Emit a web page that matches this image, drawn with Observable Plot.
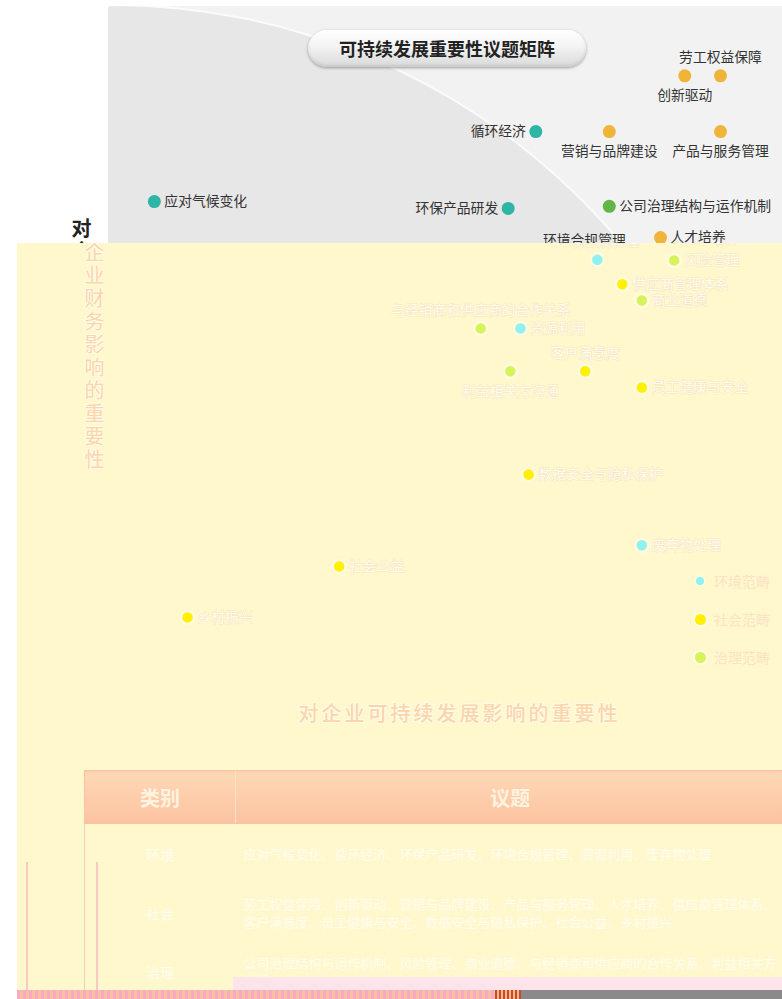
<!DOCTYPE html>
<html><head><meta charset="utf-8">
<script src="https://cdn.jsdelivr.net/npm/d3@7"></script>
<script src="https://cdn.jsdelivr.net/npm/@observablehq/plot@0.6"></script>
<style>
body{margin:0;background:#fff;font-family:"Noto Sans CJK SC","Noto Sans",sans-serif;}
#page{position:relative;width:782px;height:999px;overflow:hidden;background:#fff;}
.layer{position:absolute;left:0;top:0;width:782px;height:999px;}
.abs{position:absolute;}
table.iss{border-collapse:collapse;table-layout:fixed;}
table.iss th{height:52px;font-size:20px;font-weight:700;padding:0;}
table.iss td{font-size:13px;line-height:18px;padding:0 8px;}
</style></head><body><div id="page"></div>
<script>
// ---------- data ----------
const chartTitle = "可持续发展重要性议题矩阵";
const xLabel = "对企业可持续发展影响的重要性";
const yLabel = "对企业财务影响的重要性";
const categories = ["环境", "社会", "治理"];
const legendLabels = ["环境范畴", "社会范畴", "治理范畴"];
const topics = ["应对气候变化","乡村振兴","社会公益","与经销商和供应商的合作关系","环保产品研发","利益相关方沟通","资源利用","数据安全与隐私保护","循环经济","客户满意度","环境合规管理","营销与品牌建设","公司治理结构与运作机制","供应商管理体系","商业道德","员工健康与安全","废弃物处理","人才培养","风险管理","创新驱动","劳工权益保障","产品与服务管理"];
const topicCategory = ["环境","社会","社会","治理","环境","治理","环境","社会","环境","社会","环境","社会","治理","社会","治理","社会","环境","社会","治理","社会","社会","社会"];
const sustainImpact = [6.8, 9.8, 32.3, 53.3, 59.3, 57.7, 59.2, 60.4, 63.4, 68.8, 70.6, 74.3, 74.3, 74.3, 77.2, 77.2, 77.2, 81.9, 82.0, 85.5, 90.8, 90.8];
const financialImpact = [71.9, 10.9, 18.4, 53.4, 70.9, 47.1, 53.4, 31.9, 82.2, 47.1, 63.5, 82.2, 71.2, 59.9, 57.5, 44.7, 21.5, 66.6, 63.4, 90.4, 90.4, 82.2];
const labelSide = ["right","right","right","top","left","bottom","right","right","left","top","top","bottom","right","right","right","right","right","right","right","bottom","top","bottom"];
const tableHeaders = ["类别", "议题"];
const tableTopics = [
  "应对气候变化、循环经济、环保产品研发、环境合规管理、资源利用、废弃物处理",
  "劳工权益保障、创新驱动、营销与品牌建设、产品与服务管理、人才培养、供应商管理体系、客户满意度、员工健康与安全、数据安全与隐私保护、社会公益、乡村振兴",
  "公司治理结构与运作机制、风险管理、商业道德、与经销商和供应商的合作关系、利益相关方沟通"
];

// ---------- palettes ----------
const normal = {
  panel: true, colors: ["#2db5a5", "#f0b43a", "#62b546"], label: "#333", labelStroke: "none", labelSW: 0,
  dotStroke: "none", axis: "#222", axisStroke: null, yWeight: 700, xWeight: 700, legendText: "#333",
  headBg: "linear-gradient(#f7b27a,#f29a62)", headText: "#fff", headBorder: "#f29a62",
  bodyText: "#444", bodyBorder: "#f2b08a", legendR: [4.5, 5.5, 5.5], halo: "none"
};
const faded = {
  panel: false, colors: ["#8ff2ee", "#fff000", "#d6f35a"], label: "#fffcef", labelStroke: "#f5e6bf", labelSW: 1,
  dotStroke: "#fffae0", axis: "#fcd5aa", axisStroke: "#fffbea", yWeight: 400, xWeight: 500, legendText: "#fbe3c4",
  headBg: "linear-gradient(#fdd8b6,#fcc3a1)", headText: "#fff3de", headBorder: "#fcc2a8",
  bodyText: "#fffcf0", bodyBorder: "#fbcdbd", legendR: [4, 5.5, 5.5], halo: "0 0 0 2px #fffae4"
};

const FONT = '"Noto Sans CJK SC","Noto Sans",sans-serif';

function build(p) {
  const root = document.createElement("div");
  root.className = "layer";
  if (p.panel) {
    const panel = document.createElement("div");
    panel.className = "abs";
    Object.assign(panel.style, {left: "108px", top: "6px", width: "700px", height: "700px", overflow: "hidden", background: "#f2f2f2", borderTopLeftRadius: "3px"});
    const circ = document.createElement("div");
    circ.className = "abs";
    Object.assign(circ.style, {left: "-662px", top: "0px", width: "1330px", height: "1330px", borderRadius: "50%", background: "#e7e7e7", boxShadow: "0 0 0 2px #fbfbfb"});
    panel.appendChild(circ);
    root.appendChild(panel);
  }
  const data = topics.map((t, i) => ({topic: t, cat: topicCategory[i], x: sustainImpact[i], y: financialImpact[i], side: labelSide[i]}));
  const lab = (side, o) => Plot.text(data.filter(d => d.side === side), Object.assign({
    x: "x", y: "y", text: "topic", fill: p.label, fontSize: 13.8,
    stroke: p.labelStroke, strokeWidth: p.labelSW
  }, o));
  const chart = Plot.plot({
    width: 782, height: 760, margin: 0,
    x: {domain: [0, 100], range: [108, 782], axis: null},
    y: {domain: [0, 100], range: [690, 10], axis: null},
    color: {domain: categories, range: p.colors},
    style: {background: "transparent", fontFamily: FONT, overflow: "visible"},
    marks: [
      Plot.dot(data, {x: "x", y: "y", fill: "cat", r: 6.5, stroke: p.dotStroke, strokeWidth: p.dotStroke === "none" ? 0 : 2.5}),
      lab("right", {dx: 10, textAnchor: "start"}),
      lab("left", {dx: -10, textAnchor: "end"}),
      lab("top", {dy: -18}),
      lab("bottom", {dy: 20}),
      Plot.text([yLabel], {frameAnchor: "top-left", dx: 81, dy: 219, text: d => Array.from(d).join("\n"),
        textAnchor: "middle", lineAnchor: "top", lineHeight: 1.15, fontSize: 20, fontWeight: p.yWeight, fill: p.axis,
        stroke: p.axisStroke || "none", strokeWidth: p.axisStroke ? 2 : 0}),
      Plot.text([xLabel], {frameAnchor: "top-left", dx: 446, dy: 713, text: d => d,
        textAnchor: "middle", lineAnchor: "middle", fontSize: 20, fontWeight: p.xWeight, fill: p.axis,
        stroke: p.axisStroke || "none", strokeWidth: p.axisStroke ? 2 : 0})
    ]
  });
  d3.select(chart).selectAll("text").filter(function () { return this.textContent === xLabel; }).attr("letter-spacing", "3px");
  chart.style.position = "absolute"; chart.style.left = "0px"; chart.style.top = "0px";
  root.appendChild(chart);

  // title pill
  const pill = document.createElement("div");
  pill.className = "abs";
  pill.textContent = chartTitle;
  Object.assign(pill.style, {left: "308px", top: "30px", width: "278px", height: "37px", borderRadius: "19px",
    background: "linear-gradient(#ffffff 0%,#f3f3f3 45%,#d9d9d9 100%)", boxShadow: "0 1px 3px rgba(0,0,0,0.35), inset 0 -2px 3px rgba(0,0,0,0.08)",
    textAlign: "center", lineHeight: "37px", fontSize: "18px", fontWeight: "700", color: "#222", fontFamily: FONT});
  root.appendChild(pill);

  // legend
  legendLabels.forEach((t, i) => {
    const row = document.createElement("div");
    row.className = "abs";
    Object.assign(row.style, {left: "680px", top: (569 + i * 38) + "px", height: "22px", display: "flex", alignItems: "center", fontSize: "14px", color: p.legendText, fontFamily: FONT});
    const dot = document.createElement("span");
    const r = p.legendR[i];
    Object.assign(dot.style, {display: "inline-block", width: 2 * r + "px", height: 2 * r + "px", borderRadius: "50%", background: p.colors[i], marginLeft: (7 - r) + "px", marginRight: (21 - 7 - r) + "px", boxShadow: p.halo});
    row.appendChild(dot);
    const s = document.createElement("span"); s.textContent = t; row.appendChild(s);
    root.appendChild(row);
  });

  // table
  const tbl = document.createElement("table");
  tbl.className = "iss abs";
  Object.assign(tbl.style, {left: "71px", top: "769px", width: "700px", fontFamily: FONT});
  const cg = document.createElement("colgroup");
  [151, 549].forEach(w => { const c = document.createElement("col"); c.style.width = w + "px"; cg.appendChild(c); });
  tbl.appendChild(cg);
  const thr = document.createElement("tr");
  tableHeaders.forEach((h, i) => {
    const th = document.createElement("th"); th.textContent = h;
    Object.assign(th.style, {background: p.headBg, color: p.headText, borderTop: "1.5px solid " + p.headBorder, borderBottom: "1.5px solid " + p.headBorder,
      borderLeft: i === 0 ? "1.5px solid " + p.headBorder : "1px solid #fde0c8"});
    thr.appendChild(th);
  });
  tbl.appendChild(thr);
  const rowH = [60, 58, 60];
  categories.forEach((c, i) => {
    const tr = document.createElement("tr");
    const a = document.createElement("td"); a.textContent = c;
    Object.assign(a.style, {height: rowH[i] + "px", textAlign: "center", color: p.bodyText, borderLeft: "1.5px solid " + p.bodyBorder, fontSize: "14px"});
    const b = document.createElement("td"); b.textContent = tableTopics[i];
    Object.assign(b.style, {color: p.bodyText});
    tr.appendChild(a); tr.appendChild(b); tbl.appendChild(tr);
  });
  root.appendChild(tbl);
  return root;
}

const page = document.getElementById("page");
page.appendChild(build(normal));

// overlaid, shifted, recoloured copy
const over = document.createElement("div");
over.className = "layer";
Object.assign(over.style, {background: "#fff8cc", clipPath: "inset(243px 0px 9px 17px)"});
const inner = build(faded);
inner.style.transform = "translate(13px,1px)";
over.appendChild(inner);
page.appendChild(over);

// small glitch strips
function strip(css) { const d = document.createElement("div"); d.className = "abs"; Object.assign(d.style, css); page.appendChild(d); }
strip({left: "26px", top: "862px", width: "2px", height: "128px", background: "#fbc9c2"});
strip({left: "96px", top: "862px", width: "2px", height: "128px", background: "#fbc9c2"});
strip({left: "233px", top: "977px", width: "549px", height: "13px", background: "#fde4ea"});
strip({left: "17px", top: "990px", width: "478px", height: "9px", background: "repeating-linear-gradient(90deg,#f8a9c4 0 3px,#f7c0a0 3px 6px)"});
strip({left: "495px", top: "990px", width: "26px", height: "9px", background: "repeating-linear-gradient(90deg,#c84a2a 0 2px,#f6b98a 2px 4px)"});
strip({left: "521px", top: "990px", width: "261px", height: "9px", background: "#8a8a8a"});
</script>
</body></html>
